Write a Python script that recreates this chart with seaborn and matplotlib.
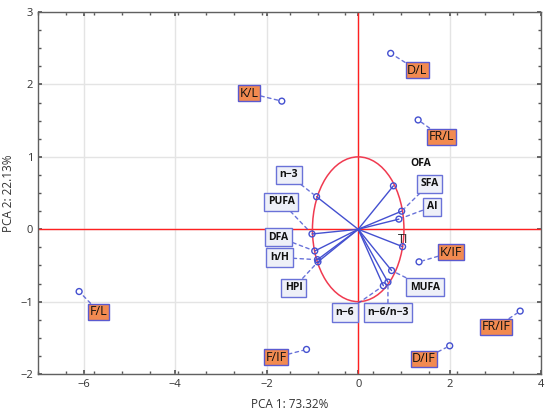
import numpy as np
import pandas as pd
import matplotlib
matplotlib.use("Agg")
import matplotlib.pyplot as plt
from matplotlib.patches import Ellipse
import seaborn as sns

# observations (cases) - scores
obs_names = ['D/L', 'K/L', 'FR/L', 'F/L', 'F/IF', 'D/IF', 'FR/IF', 'K/IF']
obs_x = [0.71, -1.67, 1.31, -6.10, -1.13, 2.00, 3.54, 1.33]
obs_y = [2.43, 1.77, 1.51, -0.86, -1.66, -1.61, -1.13, -0.45]
obs_lab_x = [1.29, -2.38, 1.82, -5.67, -1.80, 1.44, 3.02, 2.03]
obs_lab_y = [2.20, 1.88, 1.28, -1.14, -1.77, -1.79, -1.35, -0.32]

# variables - loadings
var_names = ['n\u22123', 'PUFA', 'DFA', 'h/H', 'HPI', 'OFA', 'SFA', 'AI', 'TI',
             'MUFA', 'n\u22126/n\u22123', 'n\u22126']
var_x = [-0.91, -1.01, -0.95, -0.89, -0.88, 0.77, 0.95, 0.89, 0.97, 0.73, 0.65, 0.55]
var_y = [0.45, -0.065, -0.30, -0.42, -0.45, 0.60, 0.25, 0.14, -0.24, -0.57, -0.73, -0.78]
var_lab_x = [-1.52, -1.68, -1.74, -1.72, -1.41, 1.37, 1.56, 1.61, 0.98, 1.46, 0.65, -0.29]
var_lab_y = [0.75, 0.38, -0.11, -0.39, -0.81, 0.91, 0.63, 0.31, -0.14, -0.80, -1.15, -1.15]
var_boxed = [True, True, True, True, True, False, True, True, False, True, True, True]

obs = pd.DataFrame({'x': obs_x, 'y': obs_y, 'name': obs_names})
var = pd.DataFrame({'x': var_x, 'y': var_y, 'name': var_names})

sns.set_theme(style="whitegrid")
plt.rcParams['font.family'] = ['Open Sans', 'DejaVu Sans']

blue = '#4450d0'
red = '#ff2020'

fig = plt.figure(figsize=(5.5, 4.17), dpi=100)
ax = fig.add_axes([0.069, 0.103, 0.915, 0.868])

ax.set_xlim(-7, 4)
ax.set_ylim(-2, 3)
ax.set_xticks([-6, -4, -2, 0, 2, 4])
ax.set_yticks([-2, -1, 0, 1, 2, 3])
ax.set_xticks(np.linspace(-7, 4, 19), minor=True)
ax.set_yticks(np.arange(-2, 3.01, 0.25), minor=True)
ax.grid(True, which='major', color='#e4e4e4', lw=1)
ax.grid(False, which='minor')
ax.tick_params(which='both', direction='in', top=True, right=True,
               bottom=True, left=True, colors='#555555', labelcolor='#333333',
               labelsize=8)
ax.tick_params(which='major', length=3)
ax.tick_params(which='minor', length=2)
for s in ax.spines.values():
    s.set_color('#606060')
    s.set_linewidth(1)

ax.axhline(0, color=red, lw=1, zorder=1)
ax.axvline(0, color=red, lw=1, zorder=1)
ax.add_patch(Ellipse((0, 0), 2, 2, fill=False, ec='#f03a50', lw=1.1, zorder=2))

# loading vectors
for _, r in var.iterrows():
    ax.plot([0, r['x']], [0, r['y']], color=blue, lw=1, zorder=3)

sns.scatterplot(data=var, x='x', y='y', ax=ax, marker='o', s=18,
                facecolors='none', edgecolor=blue, linewidth=1, zorder=4)
sns.scatterplot(data=obs, x='x', y='y', ax=ax, marker='o', s=18,
                facecolors='none', edgecolor=blue, linewidth=1, zorder=4)

conn = dict(arrowstyle='-', color=blue, lw=1, linestyle=(0, (2.5, 2.5)),
            shrinkA=0, shrinkB=3, alpha=0.8)

for name, px, py, lx, ly, boxed in zip(var_names, var_x, var_y,
                                       var_lab_x, var_lab_y, var_boxed):
    if name == 'TI':
        ax.text(lx, ly, name, ha='center', va='center', fontsize=9,
                color='#222222', zorder=6)
    elif not boxed:
        ax.text(lx, ly, name, ha='center', va='center', fontsize=7.5,
                fontweight='bold', color='#111111', zorder=6)
    else:
        ax.annotate(name, xy=(px, py), xytext=(lx, ly), ha='center', va='center',
                    fontsize=7.5, fontweight='bold', color='#111111',
                    bbox=dict(boxstyle='square,pad=0.35', fc='#eef0f8',
                              ec='#6a72d8', lw=1),
                    arrowprops=conn, zorder=6)

for name, px, py, lx, ly in zip(obs_names, obs_x, obs_y, obs_lab_x, obs_lab_y):
    ax.annotate(name, xy=(px, py), xytext=(lx, ly), ha='center', va='center',
                fontsize=9, color='#111111',
                bbox=dict(boxstyle='square,pad=0.12', fc='#f28a50',
                          ec='#5a5ad0', lw=1),
                arrowprops=conn, zorder=6)

ax.set_xlabel('PCA 1: 73.32%', fontsize=8.5, color='#333333', labelpad=6)
ax.set_ylabel('PCA 2: 22.13%', fontsize=8.5, color='#333333', labelpad=4)

fig.savefig('out.png', dpi=100)
